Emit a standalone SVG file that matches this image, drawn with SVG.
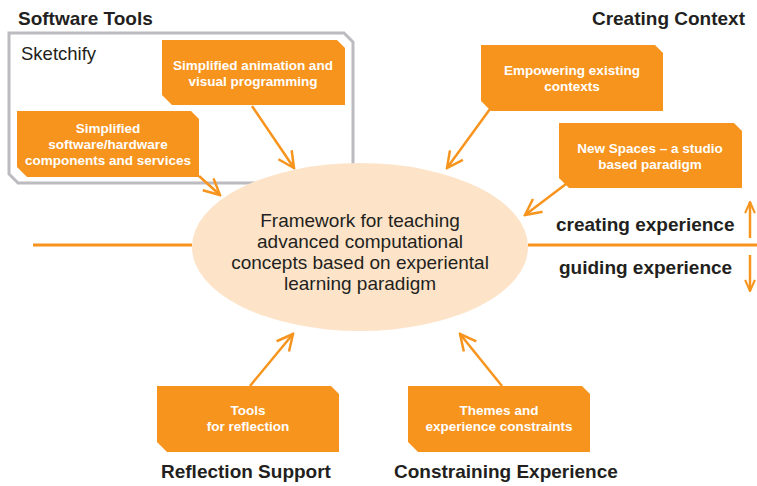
<svg xmlns="http://www.w3.org/2000/svg" width="757" height="486" viewBox="0 0 757 486">
<style>
.box{fill:#f7941d}
.bt{font-family:"Liberation Sans",Arial,sans-serif;font-weight:bold;font-size:13.5px;fill:#fff;text-anchor:middle}
.hd{font-family:"Liberation Sans",Arial,sans-serif;font-weight:bold;font-size:19px;fill:#231f20}
.ct{font-family:"Liberation Sans",Arial,sans-serif;font-size:19px;fill:#231f20;text-anchor:middle}
.ln{stroke:#f7941d;stroke-width:3;fill:none}
.ar{stroke:#f7941d;stroke-width:2.5;fill:none;marker-end:url(#ah)}
.ar2{stroke:#f7941d;stroke-width:2.5;fill:none;marker-end:url(#ah2)}
</style>
<defs>
<marker id="ah" viewBox="0 0 20 20" refX="18" refY="10" markerWidth="20" markerHeight="20" markerUnits="userSpaceOnUse" orient="auto">
<path d="M2,2 L18,10 L2,18" fill="none" stroke="#f7941d" stroke-width="2.5"/>
</marker>
<marker id="ah2" viewBox="0 0 20 20" refX="18" refY="10" markerWidth="14" markerHeight="14" markerUnits="userSpaceOnUse" orient="auto">
<path d="M2,3 L18,10 L2,17" fill="none" stroke="#f7941d" stroke-width="3"/>
</marker>
</defs>
<rect width="757" height="486" fill="#fff"/>

<text class="hd" x="18" y="25">Software Tools</text>
<text class="hd" x="745" y="25" text-anchor="end">Creating Context</text>

<g id="sketchify">
<path d="M9,33 L344,33 L353,42 L353,183 L18,183 L9,174 Z" fill="none" stroke="#bcbcc0" stroke-width="3"/>
<text x="21" y="60" font-family="Liberation Sans, Arial, sans-serif" font-size="18.5" fill="#231f20">Sketchify</text>
</g>

<g id="connectors">
<line class="ln" x1="33" y1="245" x2="192" y2="245"/>
<line class="ln" x1="528" y1="245" x2="757" y2="245"/>
<line class="ar" x1="252" y1="106" x2="294" y2="168"/>
<line class="ar" x1="199" y1="176" x2="220" y2="195"/>
<line class="ar" x1="490" y1="109" x2="447" y2="168"/>
<line class="ar" x1="566" y1="184" x2="525" y2="215"/>
<line class="ar" x1="250" y1="386" x2="293" y2="334"/>
<line class="ar" x1="502" y1="386" x2="460" y2="334"/>
<line class="ar2" x1="750" y1="238" x2="750" y2="202"/>
<line class="ar2" x1="750" y1="255" x2="750" y2="291"/>
</g>

<g id="center">
<ellipse cx="360" cy="247" rx="168" ry="84" fill="#fde4c9"/>
<text class="ct" x="360" y="227">Framework for teaching</text>
<text class="ct" x="360" y="248">advanced computational</text>
<text class="ct" x="360" y="269">concepts based on experiental</text>
<text class="ct" x="360" y="290">learning paradigm</text>
</g>

<g id="anim">
<path class="box" d="M162,40 L337,40 L345,48 L345,105 L172,105 L162,95 Z"/>
<text class="bt" x="253" y="70">Simplified animation and</text>
<text class="bt" x="253" y="86">visual programming</text>
</g>

<g id="swhw">
<path class="box" d="M17,111 L191,111 L199,119 L199,177 L27,177 L17,167 Z"/>
<text class="bt" x="108" y="133">Simplified</text>
<text class="bt" x="108" y="149">software/hardware</text>
<text class="bt" x="108" y="165">components and services</text>
</g>

<g id="empower">
<path class="box" d="M481,45 L655,45 L663,53 L663,111 L491,111 L481,101 Z"/>
<text class="bt" x="572" y="75">Empowering existing</text>
<text class="bt" x="572" y="91">contexts</text>
</g>

<g id="newspaces">
<path class="box" d="M559,123 L734,123 L742,131 L742,188 L569,188 L559,178 Z"/>
<text class="bt" x="650" y="153">New Spaces – a studio</text>
<text class="bt" x="650" y="169">based paradigm</text>
</g>

<g id="tools">
<path class="box" d="M157,386 L331,386 L339,394 L339,452 L167,452 L157,442 Z"/>
<text class="bt" x="248" y="415">Tools</text>
<text class="bt" x="248" y="431">for reflection</text>
</g>

<g id="themes">
<path class="box" d="M408,386 L582,386 L590,394 L590,452 L418,452 L408,442 Z"/>
<text class="bt" x="499" y="415">Themes and</text>
<text class="bt" x="499" y="431">experience constraints</text>
</g>

<text class="hd" x="556" y="231">creating experience</text>
<text class="hd" x="559" y="274">guiding experience</text>
<text class="hd" x="161" y="478">Reflection Support</text>
<text class="hd" x="394" y="478">Constraining Experience</text>
</svg>
